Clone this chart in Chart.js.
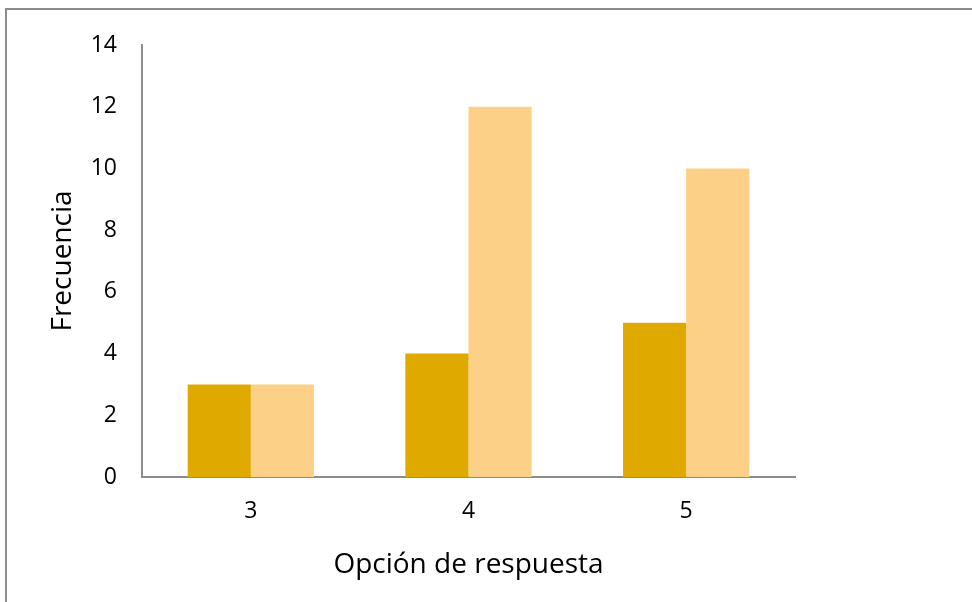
<!DOCTYPE html>
<html>
<head>
<meta charset="utf-8">
<script src="https://cdn.jsdelivr.net/npm/chart.js@4.4.1/dist/chart.umd.min.js"></script>
<style>
  html, body { margin: 0; padding: 0; background: #fff; }
  #wrap { position: relative; width: 972px; height: 602px; }
  #frame { position: absolute; left: 5px; top: 8px; right: -4px; bottom: -4px; border-left: 2px solid #8c8c8c; border-top: 2px solid #8c8c8c; }
  canvas { position: absolute; left: 0; top: 0; }
</style>
</head>
<body>
<div id="wrap">
  <div id="frame"></div>
  <canvas id="chart" width="972" height="602"></canvas>
</div>
<script>
const categories = ['3', '4', '5'];
const seriesA = [3, 4, 5];
const seriesB = [3, 12, 10];
const yTicks = [0, 2, 4, 6, 8, 10, 12, 14];

const fontFamily = "'Open Sans', 'Noto Sans', sans-serif";

const ctx = document.getElementById('chart');
new Chart(ctx, {
  type: 'bar',
  data: {
    labels: categories,
    datasets: [
      { label: 'A', data: seriesA, backgroundColor: '#e0a900', borderWidth: 0 },
      { label: 'B', data: seriesB, backgroundColor: '#fdd088', borderWidth: 0 },
    ],
  },
  options: {
    responsive: false,
    animation: false,
    layout: { padding: { left: 0, top: 45, right: 177, bottom: 0 } },
    plugins: { legend: { display: false }, tooltip: { enabled: false } },
    datasets: { bar: { categoryPercentage: 0.58, barPercentage: 1 } },
    scales: {
      x: {
        grid: { display: false },
        border: { display: true, color: '#8c8c8c', width: 2 },
        ticks: { color: '#000', padding: 13, font: { family: fontFamily, size: 23 } },
        title: { display: true, text: 'Opción de respuesta', color: '#000', padding: { top: 10, bottom: 20 }, font: { family: fontFamily, size: 28 } },
        afterFit: (scale) => { scale.height = 125; },
      },
      y: {
        min: 0,
        max: 14,
        afterBuildTicks: (scale) => { scale.ticks = yTicks.map((v) => ({ value: v })); },
        grid: { display: false },
        border: { display: true, color: '#8c8c8c', width: 2 },
        ticks: { color: '#000', padding: 17, font: { family: fontFamily, size: 23 } },
        title: { display: true, text: 'Frecuencia', color: '#000', padding: { top: 46, bottom: 10 }, font: { family: fontFamily, size: 28 } },
        afterFit: (scale) => { scale.width = 142; },
      },
    },
  },
});
</script>
</body>
</html>
